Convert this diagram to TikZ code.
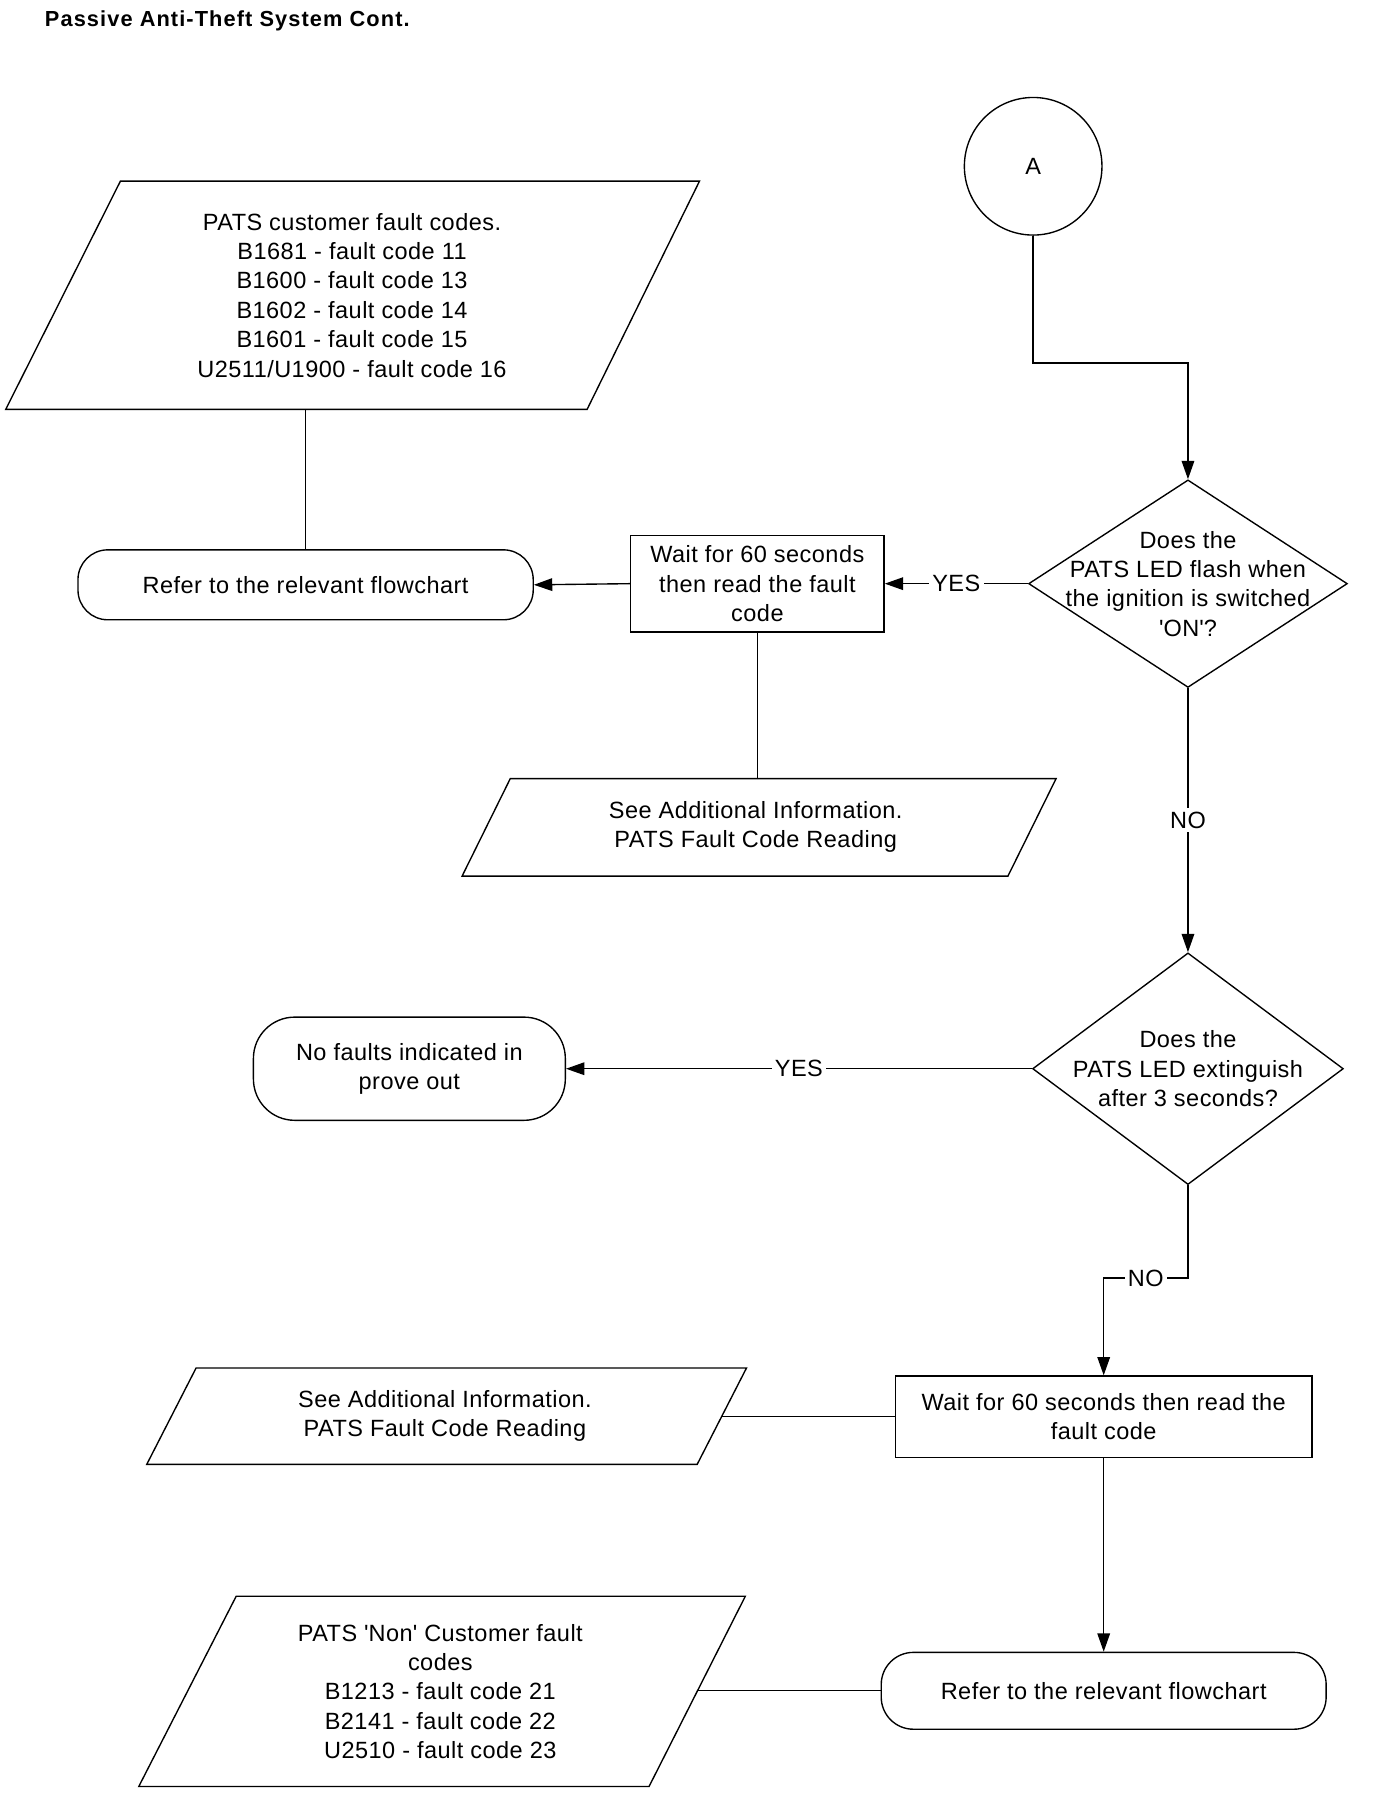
\documentclass[tikz,border=0pt]{standalone}
\usepackage{fontspec}
\setmainfont{Liberation Sans}[LetterSpace=2]
\usetikzlibrary{shapes.geometric,arrows.meta}
\begin{document}
\begin{tikzpicture}[x=1pt,y=-1pt,
  every node/.style={font=\fontsize{20.5pt}{25.6pt}\selectfont},
  line/.style={line width=1.2pt, draw=black},
  arr/.style={line, -{Triangle[length=16pt,width=11pt]}},
  txt/.style={align=center, inner sep=0pt},
  procbox/.style={line, rectangle, inner sep=0pt, align=center},
  termbox/.style={line, rectangle, inner sep=0pt, align=center},
  decbox/.style={line, diamond, inner sep=0pt},
  lbl/.style={fill=white, inner sep=3pt}
]
\useasboundingbox (0,0) rectangle (1200,1568);

% title
\node[anchor=base west, inner sep=0pt, font=\fontsize{19pt}{22pt}\selectfont\bfseries\addfontfeatures{LetterSpace=5}] (title) at (39,23.5) {Passive Anti-Theft System Cont.};

% connector circle
\node[line, circle, minimum size=120pt, inner sep=0pt] (cA) at (901,145) {A};

% decision 1
\node[decbox, minimum width=278pt, minimum height=181pt] (d1) at (1036,509) {};
\node[txt] (d1t) at (1036,509) {Does the\\PATS LED flash when\\the ignition is switched\\\textquotesingle ON\textquotesingle ?};

% wait box 1
\node[procbox, minimum width=221pt, minimum height=84pt] (b1) at (660.5,509) {Wait for 60 seconds\\then read the fault\\code};

% terminator 1
\node[termbox, rounded corners=26pt, minimum width=397pt, minimum height=61pt] (t1) at (266.5,510) {Refer to the relevant flowchart};

% parallelogram 1
\draw[line] (105,158) -- (610,158) -- (512,357) -- (5,357) -- cycle;
\node[txt] (p1) at (307,257.5) {PATS customer fault codes.\\B1681 - fault code 11\\B1600 - fault code 13\\B1602 - fault code 14\\B1601 - fault code 15\\U2511/U1900 - fault code 16};
\coordinate (p1b) at (266.5,357);

% parallelogram 2
\draw[line] (445,679) -- (921,679) -- (879,764) -- (403,764) -- cycle;
\node[txt] (p2) at (659,721) {See Additional Information.\\PATS Fault Code Reading};
\coordinate (p2t) at (660.5,679);

% decision 2
\node[decbox, minimum width=271pt, minimum height=202pt] (d2) at (1036,932) {};
\node[txt] (d2t) at (1036,932) {Does the\\PATS LED extinguish\\after 3 seconds?};

% terminator 2
\node[termbox, rounded corners=36pt, minimum width=272pt, minimum height=90pt] (t2) at (357,932) {No faults indicated in\\prove out};

% wait box 2
\node[procbox, minimum width=363pt, minimum height=71pt] (b2) at (962.5,1235.5) {Wait for 60 seconds then read the\\fault code};

% parallelogram 3
\draw[line] (171,1193) -- (651,1193) -- (608,1277) -- (128,1277) -- cycle;
\node[txt] (p3) at (388,1235) {See Additional Information.\\PATS Fault Code Reading};
\coordinate (p3r) at (629.5,1235.5);

% terminator 3
\node[termbox, rounded corners=28pt, minimum width=388pt, minimum height=67pt] (t3) at (962.5,1474.5) {Refer to the relevant flowchart};

% parallelogram 4
\draw[line] (206,1392) -- (650,1392) -- (566,1558) -- (121,1558) -- cycle;
\node[txt] (p4) at (384,1475) {PATS \textquotesingle Non\textquotesingle\ Customer fault\\codes\\B1213 - fault code 21\\B2141 - fault code 22\\U2510 - fault code 23};
\coordinate (p4r) at (608,1474.5);

% connectors
\draw[arr] (cA.south) -- ++(0,111) -| (d1.north);
\draw[arr] (d1.west) -- node[lbl] {YES} (b1.east);
\draw[arr] (b1.west) -- (t1.east);
\draw[line] (p1b) -- (t1.north);
\draw[line] (b1.south) -- (p2t);
\draw[arr] (d1.south) -- node[lbl] {NO} (d2.north);
\draw[arr] (d2.west) -- node[lbl] {YES} (t2.east);
\draw[arr] (d2.south) -- ++(0,81) -| node[lbl, pos=0.25] {NO} (b2.north);
\draw[line] (p3r) -- (b2.west);
\draw[arr] (b2.south) -- (t3.north);
\draw[line] (p4r) -- (t3.west);
\end{tikzpicture}
\end{document}
